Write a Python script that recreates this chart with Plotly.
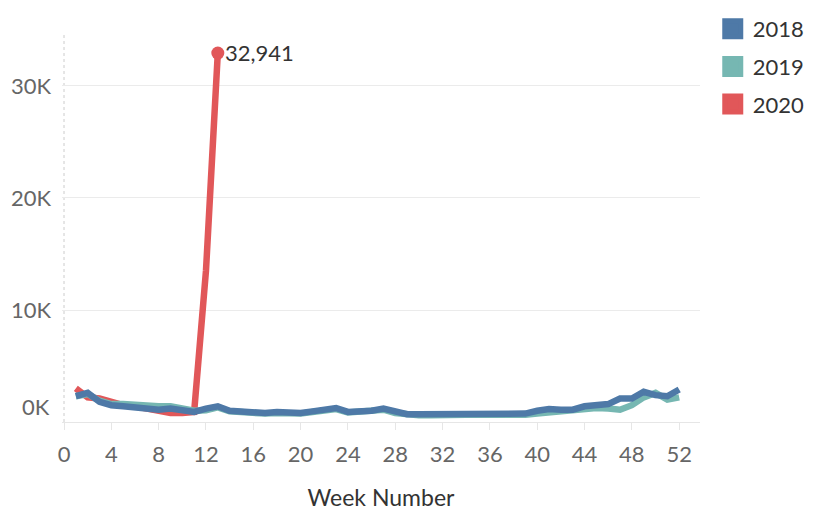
import plotly.graph_objects as go

weeks = list(range(1, 53))
weeks_2020 = list(range(1, 14))

vals_2018 = [2300, 2600, 1800, 1500, 1400, 1300, 1200, 1100, 1200, 1000,
             900, 1200, 1400, 1000, 900, 800, 800, 900, 850, 800,
             950, 1100, 1250, 900, 950, 1000, 1200, 900, 700, 700,
             700, 700, 700, 700, 700, 750, 750, 750, 750, 1000,
             1150, 1100, 1100, 1400, 1450, 1600, 2100, 2100, 2700, 2400,
             2300, 2900]
vals_2019 = [2300, 2500, 1900, 1600, 1600, 1500, 1500, 1400, 1400, 1200,
             1000, 1050, 1300, 950, 850, 750, 750, 800, 800, 750,
             900, 1000, 1150, 850, 900, 950, 1100, 800, 650, 600,
             600, 650, 600, 650, 650, 650, 600, 600, 650, 750,
             850, 950, 1000, 1200, 1250, 1200, 1100, 1500, 2200, 2600,
             2000, 2200]
vals_2020 = [3000, 2200, 2100, 1800, 1500, 1400, 1200, 900, 800, 800,
             900, 13500, 32941]

colors = {"2018": "#4e79a7", "2019": "#76b7b2", "2020": "#e15759"}
tick_vals_x = list(range(0, 53, 4))
tick_vals_y = [10000, 20000, 30000]
tick_text_y = ["10K", "20K", "30K"]

FONT = "Lato"

fig = go.Figure()

series = [("2020", weeks_2020, vals_2020), ("2019", weeks, vals_2019), ("2018", weeks, vals_2018)]
for name, xs, ys in series:
    fig.add_trace(go.Scatter(
        x=xs, y=ys, mode="lines", name=name, showlegend=False,
        line=dict(color=colors[name], width=6.5, shape="linear"),
        hoverinfo="x+y"))

# peak marker
fig.add_trace(go.Scatter(
    x=[weeks_2020[-1]], y=[vals_2020[-1]], mode="markers",
    marker=dict(color=colors["2020"], size=13),
    showlegend=False, hoverinfo="skip"))
fig.add_annotation(x=weeks_2020[-1], y=vals_2020[-1], text=f"{vals_2020[-1]:,}",
                   showarrow=False, xanchor="left", xshift=5, yshift=1,
                   font=dict(family=FONT, size=22, color="#333333"))

# legend entries
for name in ["2018", "2019", "2020"]:
    fig.add_trace(go.Scatter(
        x=[None], y=[None], mode="markers", name=name, legendgroup=name,
        marker=dict(symbol="square", size=26, color=colors[name],
                    line=dict(color=colors[name], width=5))))

fig.add_shape(type="line", xref="x", yref="paper", x0=0, x1=0, y0=0, y1=1,
              line=dict(color="#cccccc", width=1, dash="dot"), layer="below")

fig.add_annotation(x=0, xref="paper", y=1400, yref="y", text="0K",
                   showarrow=False, xanchor="right", xshift=-10,
                   font=dict(family=FONT, size=22, color="#666666"))

# the page body adds an 8px offset, so the figure is 8px smaller on each axis
fig.update_layout(
    width=806, height=503,
    margin=dict(l=54, r=114, t=24, b=89, autoexpand=False),
    plot_bgcolor="white", paper_bgcolor="white",
    font=dict(family=FONT, size=22, color="#666666"),
    legend=dict(x=1.02, xanchor="left", y=1.0615, yanchor="top",
                font=dict(family=FONT, size=22, color="#333333"),
                itemsizing="trace", tracegroupgap=6, bgcolor="rgba(0,0,0,0)"),
    xaxis=dict(range=[-0.17, 53.76], tickvals=tick_vals_x, showgrid=False,
               zeroline=False, showline=True, linecolor="#e6e6e6", linewidth=1,
               ticks="outside", ticklen=7, tickcolor="#e6e6e6",
               ticklabelstandoff=6,
               tickfont=dict(family=FONT, size=22, color="#666666"),
               title=dict(text="Week Number", standoff=36,
                          font=dict(family=FONT, size=23, color="#333333"))),
    yaxis=dict(range=[0, 34820], tickvals=tick_vals_y, ticktext=tick_text_y,
               showgrid=True, gridcolor="#ebebeb", gridwidth=1, zeroline=False,
               ticks="", ticklabelstandoff=10,
               tickfont=dict(family=FONT, size=22, color="#666666")),
)

fig.write_html("out.html")
